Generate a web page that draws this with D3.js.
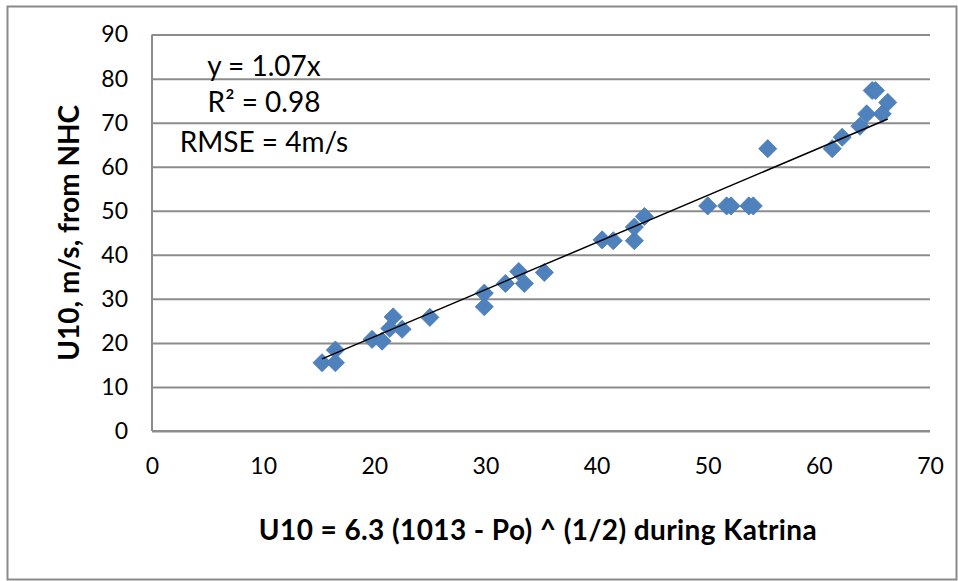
<!DOCTYPE html>
<html lang="en">
<head>
<meta charset="UTF-8">
<style>
  body { margin: 0; background: #fff; }
  text { font-family: Lato, "Open Sans", sans-serif; fill: #000; }
</style>
</head>
<body>
<script src="https://d3js.org/d3.v7.min.js"></script>
<div id="here"></div>
<script>
// scatter: estimated U10 (x) vs NHC U10 (y)
const xVals = [15.3, 16.5, 16.5, 19.8, 20.7, 21.7, 21.4, 22.5, 25.0, 29.9, 29.9, 31.8, 33.0, 33.5, 35.3,
               40.5, 41.5, 43.4, 43.4, 44.3, 50.0, 51.7, 52.1, 53.7, 54.1, 55.4, 61.2, 62.1, 63.7, 64.3,
               64.8, 65.1, 65.7, 66.2];
const yVals = [15.5, 15.5, 18.4, 20.8, 20.4, 25.9, 23.3, 23.1, 25.8, 31.3, 28.2, 33.5, 36.2, 33.5, 36.0,
               43.4, 43.2, 43.2, 46.3, 48.7, 51.1, 51.1, 51.1, 51.1, 51.1, 64.1, 64.1, 66.7, 69.2, 72.0,
               77.3, 77.3, 72.0, 74.6];
const slope = 1.07;
const xTicks = [0, 10, 20, 30, 40, 50, 60, 70];
const yTicks = [0, 10, 20, 30, 40, 50, 60, 70, 80, 90];
const notes = ["y = 1.07x", "R² = 0.98", "RMSE = 4m/s"];

const W = 958, H = 581;
const margin = {left: 152, top: 34.6, right: 28, bottom: 150};
const width = W - margin.left - margin.right,
      height = H - margin.top - margin.bottom;

const svg = d3.select("#here").append("svg")
    .attr("width", W).attr("height", H);

// outer chart border
svg.append("rect")
    .attr("x", 7.5).attr("y", 6.5)
    .attr("width", W - 9).attr("height", H - 8)
    .attr("fill", "none").attr("stroke", "#8a8a8a").attr("stroke-width", 2);

const g = svg.append("g").attr("transform", `translate(${margin.left},${margin.top})`);

const x = d3.scaleLinear().domain([0, 70]).range([0, width]);
const y = d3.scaleLinear().domain([0, 90]).range([height, 0]);

// gridlines
g.append("g")
    .call(d3.axisLeft(y).tickValues(yTicks).tickSize(-width).tickFormat(""))
    .call(a => a.select(".domain").remove())
    .selectAll("line").attr("stroke", "#8c8c8c").attr("stroke-width", 2);

// plot-area left and bottom border
g.append("line").attr("x1", 0).attr("x2", 0).attr("y1", 0).attr("y2", height)
    .attr("stroke", "#8c8c8c").attr("stroke-width", 2);
g.append("line").attr("x1", 0).attr("x2", width).attr("y1", height).attr("y2", height)
    .attr("stroke", "#8c8c8c").attr("stroke-width", 2);

// tick labels
const yAxis = g.append("g")
    .call(d3.axisLeft(y).tickValues(yTicks).tickSize(0).tickPadding(24));
yAxis.select(".domain").remove();
yAxis.selectAll("text").attr("font-size", null)
    .style("font-size", "23px").style("font-family", "Lato, sans-serif");

const xAxis = g.append("g")
    .attr("transform", `translate(0,${height})`)
    .call(d3.axisBottom(x).tickValues(xTicks).tickSize(0).tickPadding(27));
xAxis.select(".domain").remove();
xAxis.selectAll("text")
    .style("font-size", "23px").style("font-family", "Lato, sans-serif");

// points
const pts = xVals.map((v, i) => ({x: v, y: yVals[i]}));
g.selectAll("path.pt")
    .data(pts)
    .join("path")
    .attr("class", "pt")
    .attr("d", d3.symbol().type(d3.symbolDiamond2).size(210))
    .attr("transform", d => `translate(${x(d.x)},${y(d.y)})`)
    .attr("fill", "#4f81bd")
    .attr("stroke", "#4a7ab5").attr("stroke-width", 0.8);

// trend line
const x0 = d3.min(xVals), x1 = d3.max(xVals);
g.append("line")
    .attr("x1", x(x0)).attr("y1", y(slope * x0))
    .attr("x2", x(x1)).attr("y2", y(slope * x1))
    .attr("stroke", "#000").attr("stroke-width", 1.5);

// annotation
const notePos = [[264, 76], [264, 112], [264, 152]];
notes.forEach((t, i) => {
  svg.append("text")
    .attr("x", notePos[i][0]).attr("y", notePos[i][1])
    .attr("text-anchor", "middle")
    .style("font-size", "28px")
    .text(t);
});

// axis titles
svg.append("text")
    .attr("transform", `translate(79,${margin.top + height / 2}) rotate(-90)`)
    .attr("text-anchor", "middle")
    .style("font-size", "28px").style("font-weight", "bold")
    .text("U10, m/s, from NHC");

svg.append("text")
    .attr("x", 538).attr("y", 540)
    .attr("text-anchor", "middle")
    .style("font-size", "28px").style("font-weight", "bold")
    .style("letter-spacing", "0.4px")
    .text("U10 = 6.3 (1013 - Po) ^ (1/2) during Katrina");
</script>
</body>
</html>
